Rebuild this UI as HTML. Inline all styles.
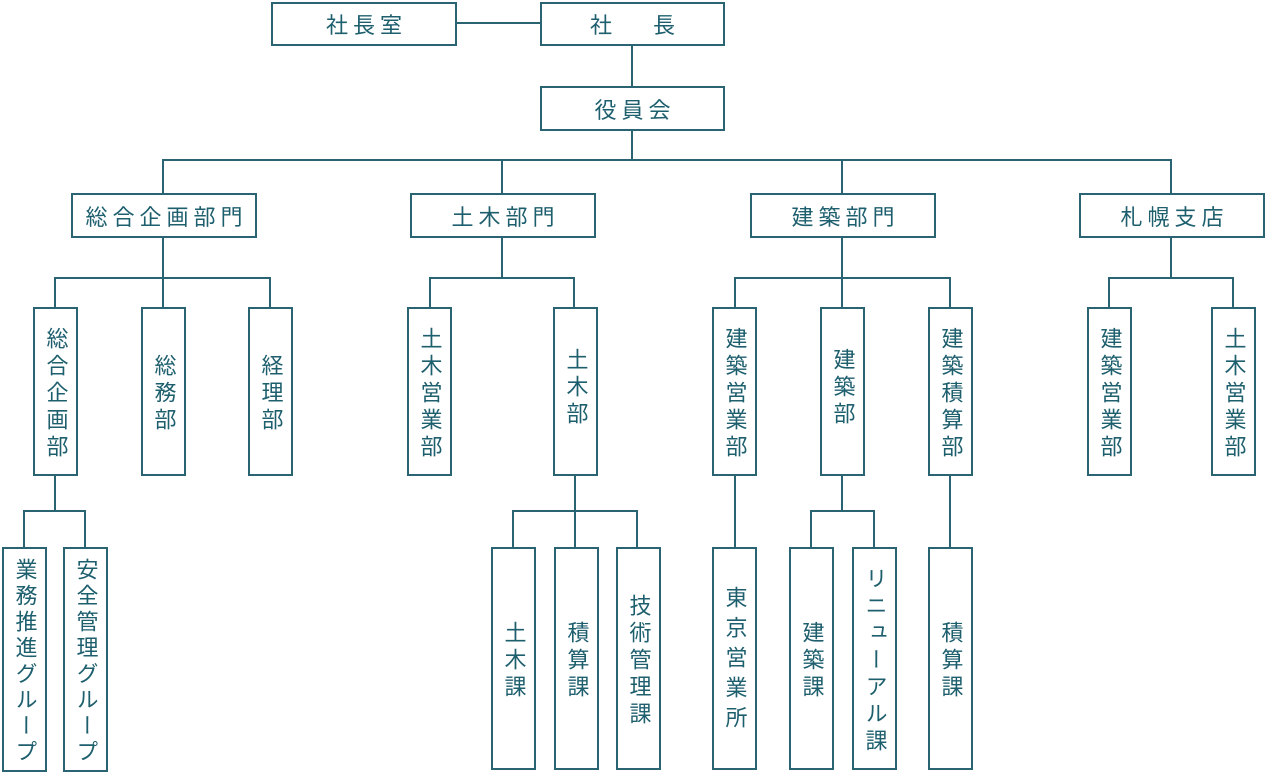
<!DOCTYPE html>
<html><head><meta charset="utf-8"><style>
body{margin:0;width:1266px;height:773px;background:#fff;position:relative;overflow:hidden;font-family:"Liberation Sans","Noto Sans CJK JP",sans-serif;color:#1e5f6e}
.b{position:absolute;box-sizing:border-box;border:2px solid #2a6472;background:#fff;display:flex;align-items:center;justify-content:center;font-size:22px}
.h{letter-spacing:5px;padding-left:5px}
.v{writing-mode:vertical-rl;letter-spacing:5px;font-size:22px;padding-top:5px}
.l{position:absolute;background:#2a6472}
</style></head><body>
<div class="l" style="left:456px;top:22px;width:84px;height:2px"></div>
<div class="l" style="left:631px;top:45px;width:2px;height:41px"></div>
<div class="l" style="left:631px;top:130px;width:2px;height:30px"></div>
<div class="l" style="left:162px;top:159px;width:1010px;height:2px"></div>
<div class="l" style="left:162px;top:159px;width:2px;height:34px"></div>
<div class="l" style="left:501px;top:159px;width:2px;height:34px"></div>
<div class="l" style="left:841px;top:159px;width:2px;height:34px"></div>
<div class="l" style="left:1170px;top:159px;width:2px;height:34px"></div>
<div class="l" style="left:162px;top:237px;width:2px;height:70px"></div>
<div class="l" style="left:54px;top:277px;width:217px;height:2px"></div>
<div class="l" style="left:54px;top:277px;width:2px;height:30px"></div>
<div class="l" style="left:269px;top:277px;width:2px;height:30px"></div>
<div class="l" style="left:501px;top:237px;width:2px;height:41px"></div>
<div class="l" style="left:429px;top:277px;width:146px;height:2px"></div>
<div class="l" style="left:429px;top:277px;width:2px;height:30px"></div>
<div class="l" style="left:573px;top:277px;width:2px;height:30px"></div>
<div class="l" style="left:841px;top:237px;width:2px;height:70px"></div>
<div class="l" style="left:734px;top:277px;width:217px;height:2px"></div>
<div class="l" style="left:734px;top:277px;width:2px;height:30px"></div>
<div class="l" style="left:949px;top:277px;width:2px;height:30px"></div>
<div class="l" style="left:1170px;top:237px;width:2px;height:41px"></div>
<div class="l" style="left:1108px;top:277px;width:126px;height:2px"></div>
<div class="l" style="left:1108px;top:277px;width:2px;height:30px"></div>
<div class="l" style="left:1232px;top:277px;width:2px;height:30px"></div>
<div class="l" style="left:54px;top:475px;width:2px;height:37px"></div>
<div class="l" style="left:23px;top:510px;width:63px;height:2px"></div>
<div class="l" style="left:23px;top:510px;width:2px;height:37px"></div>
<div class="l" style="left:84px;top:510px;width:2px;height:37px"></div>
<div class="l" style="left:574px;top:475px;width:2px;height:72px"></div>
<div class="l" style="left:512px;top:510px;width:126px;height:2px"></div>
<div class="l" style="left:512px;top:510px;width:2px;height:37px"></div>
<div class="l" style="left:636px;top:510px;width:2px;height:37px"></div>
<div class="l" style="left:734px;top:475px;width:2px;height:72px"></div>
<div class="l" style="left:841px;top:475px;width:2px;height:37px"></div>
<div class="l" style="left:810px;top:510px;width:65px;height:2px"></div>
<div class="l" style="left:810px;top:510px;width:2px;height:37px"></div>
<div class="l" style="left:873px;top:510px;width:2px;height:37px"></div>
<div class="l" style="left:949px;top:475px;width:2px;height:72px"></div>

<div class="b h" style="left:271px;top:2px;width:186px;height:44px">社長室</div>
<div class="b h" style="left:540px;top:2px;width:185px;height:44px">社<span style="display:inline-block;width:36px"></span>長</div>
<div class="b h" style="left:540px;top:86px;width:185px;height:45px">役員会</div>
<div class="b h" style="left:71px;top:193px;width:186px;height:45px">総合企画部門</div>
<div class="b h" style="left:410px;top:193px;width:186px;height:45px">土木部門</div>
<div class="b h" style="left:750px;top:193px;width:186px;height:45px">建築部門</div>
<div class="b h" style="left:1079px;top:193px;width:186px;height:45px">札幌支店</div>

<div class="b" style="left:33px;top:307px;width:45px;height:169px"><span class="v">総合企画部</span></div>
<div class="b" style="left:141px;top:307px;width:45px;height:169px"><span class="v">総務部</span></div>
<div class="b" style="left:248px;top:307px;width:45px;height:169px"><span class="v">経理部</span></div>
<div class="b" style="left:407px;top:307px;width:45px;height:169px"><span class="v">土木営業部</span></div>
<div class="b" style="left:553px;top:307px;width:45px;height:169px"><span class="v" style="margin-top:-12px">土木部</span></div>
<div class="b" style="left:712px;top:307px;width:45px;height:169px"><span class="v">建築営業部</span></div>
<div class="b" style="left:820px;top:307px;width:45px;height:169px"><span class="v" style="margin-top:-12px">建築部</span></div>
<div class="b" style="left:928px;top:307px;width:45px;height:169px"><span class="v">建築積算部</span></div>
<div class="b" style="left:1087px;top:307px;width:45px;height:169px"><span class="v">建築営業部</span></div>
<div class="b" style="left:1211px;top:307px;width:45px;height:169px"><span class="v">土木営業部</span></div>

<div class="b" style="left:2px;top:547px;width:45px;height:225px"><span class="v" style="letter-spacing:4px">業務推進グループ</span></div>
<div class="b" style="left:63px;top:547px;width:45px;height:225px"><span class="v" style="letter-spacing:4px">安全管理グループ</span></div>
<div class="b" style="left:491px;top:547px;width:45px;height:223px"><span class="v">土木課</span></div>
<div class="b" style="left:554px;top:547px;width:45px;height:223px"><span class="v">積算課</span></div>
<div class="b" style="left:616px;top:547px;width:45px;height:223px"><span class="v">技術管理課</span></div>
<div class="b" style="left:712px;top:547px;width:45px;height:223px"><span class="v" style="letter-spacing:8px">東京営業所</span></div>
<div class="b" style="left:789px;top:547px;width:45px;height:223px"><span class="v">建築課</span></div>
<div class="b" style="left:852px;top:547px;width:45px;height:223px"><span class="v">リニューアル課</span></div>
<div class="b" style="left:928px;top:547px;width:45px;height:223px"><span class="v">積算課</span></div>
</body></html>
